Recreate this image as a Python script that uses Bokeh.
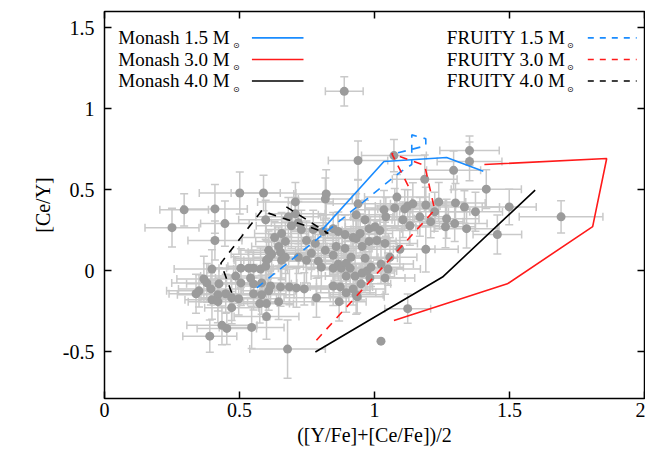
import numpy as np
from bokeh.plotting import figure
from bokeh.models import (ColumnDataSource, Whisker, TeeHead, LinearAxis, FixedTicker,
                          Range1d, Label, Arrow)
from bokeh.embed import file_html
from bokeh.resources import INLINE

# ---------------- data ----------------
obs_x = [0.250, 0.295, 0.339, 0.350, 0.368, 0.379, 0.390, 0.394, 0.398, 0.398,
         0.409, 0.409, 0.420, 0.420, 0.424, 0.435, 0.446, 0.449, 0.453, 0.471,
         0.471, 0.486, 0.497, 0.501, 0.505, 0.505, 0.534, 0.541, 0.545, 0.552,
         0.552, 0.552, 0.575, 0.578, 0.582, 0.582, 0.589, 0.597, 0.597, 0.600,
         0.600, 0.600, 0.608, 0.608, 0.608, 0.615, 0.619, 0.630, 0.645, 0.645,
         0.652, 0.652, 0.656, 0.656, 0.670, 0.670, 0.678, 0.681, 0.685, 0.692,
         0.707, 0.707, 0.711, 0.718, 0.718, 0.729, 0.740, 0.748, 0.748, 0.766,
         0.773, 0.781, 0.785, 0.792, 0.803, 0.810, 0.818, 0.821, 0.818, 0.847,
         0.847, 0.847, 0.847, 0.858, 0.866, 0.866, 0.869, 0.873, 0.877, 0.888,
         0.891, 0.891, 0.895, 0.895, 0.895, 0.910, 0.913, 0.921, 0.921, 0.928,
         0.932, 0.932, 0.932, 0.939, 0.939, 0.936, 0.947, 0.950, 0.954, 0.954,
         0.965, 0.965, 0.972, 0.980, 0.980, 0.983, 0.987, 1.002, 1.009, 1.020,
         1.024, 1.024, 1.035, 1.039, 1.039, 1.042, 1.050, 1.057, 1.072, 1.075,
         1.083, 1.094, 1.105, 1.112, 1.123, 1.123, 1.131, 1.142, 1.168, 1.186,
         1.190, 1.190, 1.223, 1.208, 1.238, 1.263, 1.267, 1.293, 1.297, 1.300,
         1.333, 1.341, 1.352, 1.352, 1.374, 1.414, 1.455, 1.499, 1.691]
obs_y = [0.265, 0.375, -0.143, -0.125, -0.052, -0.076, -0.405, -0.113, 0.009, -0.180,
         0.381, 0.186, -0.149, -0.192, -0.082, -0.338, 0.290, -0.143, -0.357, -0.168,
         -0.229, -0.034, -0.174, 0.479, 0.015, -0.076, 0.015, -0.046, -0.351, 0.015,
         -0.082, -0.143, -0.204, 0.009, -0.076, -0.149, 0.479, 0.314, 0.027, 0.064,
         -0.204, -0.284, 0.125, 0.076, -0.125, -0.095, 0.101, 0.204, 0.149, -0.192,
         -0.101, 0.113, 0.229, 0.064, 0.082, 0.180, -0.485, 0.332, -0.101, 0.277,
         0.424, 0.351, -0.107, 0.296, 0.082, 0.253, -0.113, 0.186, 0.064, 0.107,
         0.253, 0.168, -0.168, 0.058, 0.021, 0.241, 0.442, 0.473, 0.125, 0.259,
         0.095, 0.015, -0.095, 0.149, 0.241, 0.040, -0.192, -0.101, 0.015, 1.107,
         0.223, 0.137, -0.034, 0.046, -0.137, 0.015, 0.082, 0.204, -0.113, -0.034,
         0.345, 0.198, -0.149, 0.680, 0.412, -0.162, 0.229, -0.082, 0.149, -0.015,
         0.314, 0.076, -0.003, 0.259, 0.180, -0.046, 0.021, 0.271, 0.186, 0.247,
         0.040, -0.436, 0.375, 0.168, -0.046, 0.332, 0.009, 0.082, 0.710, 0.387,
         0.454, 0.131, 0.314, 0.381, 0.399, -0.235, 0.277, 0.412, 0.332, 0.564,
         0.405, 0.131, 0.363, 0.302, 0.424, 0.271, 0.320, 0.619, 0.290, 0.418,
         0.393, 0.259, 0.741, 0.674, 0.363, 0.503, 0.223, 0.393, 0.332]
obs_xerr = [0.10, 0.09, 0.10, 0.12, 0.10, 0.13, 0.10, 0.12, 0.14, 0.10,
            0.12, 0.10, 0.15, 0.11, 0.12, 0.13, 0.09, 0.10, 0.11, 0.12,
            0.10, 0.13, 0.14, 0.15, 0.12, 0.10, 0.11, 0.13, 0.12, 0.10,
            0.14, 0.12, 0.11, 0.10, 0.13, 0.12, 0.12, 0.10, 0.14, 0.12,
            0.10, 0.12, 0.11, 0.13, 0.10, 0.12, 0.15, 0.12, 0.10, 0.13,
            0.11, 0.12, 0.10, 0.14, 0.12, 0.11, 0.14, 0.12, 0.10, 0.13,
            0.14, 0.11, 0.12, 0.10, 0.12, 0.13, 0.11, 0.12, 0.10, 0.12,
            0.14, 0.10, 0.12, 0.11, 0.13, 0.12, 0.10, 0.12, 0.11, 0.13,
            0.12, 0.10, 0.12, 0.11, 0.14, 0.12, 0.10, 0.12, 0.11, 0.07,
            0.12, 0.10, 0.13, 0.12, 0.11, 0.12, 0.10, 0.13, 0.12, 0.11,
            0.14, 0.12, 0.10, 0.11, 0.12, 0.10, 0.12, 0.11, 0.13, 0.12,
            0.10, 0.12, 0.11, 0.12, 0.10, 0.13, 0.12, 0.11, 0.12, 0.14,
            0.12, 0.00, 0.10, 0.12, 0.11, 0.13, 0.12, 0.10, 0.12, 0.11,
            0.12, 0.13, 0.12, 0.10, 0.12, 0.085, 0.11, 0.12, 0.10, 0.12,
            0.11, 0.12, 0.13, 0.12, 0.10, 0.11, 0.12, 0.10, 0.12, 0.11,
            0.13, 0.12, 0.11, 0.12, 0.10, 0.13, 0.09, 0.10, 0.155]
obs_yerr = [0.12, 0.10, 0.12, 0.10, 0.14, 0.12, 0.10, 0.10, 0.12, 0.12,
            0.15, 0.12, 0.10, 0.13, 0.10, 0.12, 0.14, 0.12, 0.10, 0.14,
            0.10, 0.12, 0.10, 0.13, 0.12, 0.14, 0.10, 0.12, 0.13, 0.11,
            0.12, 0.10, 0.12, 0.13, 0.10, 0.12, 0.11, 0.12, 0.10, 0.12,
            0.10, 0.14, 0.12, 0.10, 0.12, 0.10, 0.12, 0.10, 0.12, 0.11,
            0.12, 0.10, 0.13, 0.12, 0.10, 0.12, 0.18, 0.12, 0.11, 0.14,
            0.12, 0.10, 0.12, 0.13, 0.10, 0.12, 0.10, 0.12, 0.14, 0.10,
            0.12, 0.11, 0.12, 0.10, 0.12, 0.10, 0.13, 0.15, 0.12, 0.10,
            0.12, 0.10, 0.12, 0.11, 0.12, 0.10, 0.12, 0.10, 0.13, 0.09,
            0.12, 0.10, 0.12, 0.11, 0.12, 0.10, 0.12, 0.12, 0.10, 0.12,
            0.13, 0.11, 0.12, 0.12, 0.15, 0.10, 0.12, 0.10, 0.12, 0.11,
            0.12, 0.10, 0.12, 0.12, 0.13, 0.10, 0.12, 0.11, 0.12, 0.10,
            0.12, 0.00, 0.12, 0.13, 0.10, 0.12, 0.10, 0.12, 0.10, 0.12,
            0.14, 0.12, 0.11, 0.12, 0.10, 0.09, 0.12, 0.13, 0.12, 0.15,
            0.11, 0.14, 0.12, 0.10, 0.12, 0.13, 0.12, 0.12, 0.11, 0.12,
            0.10, 0.12, 0.09, 0.12, 0.12, 0.12, 0.12, 0.11, 0.10]

monash15_x = [0.807, 1.035, 1.267, 1.403]
monash15_y = [0.253, 0.674, 0.698, 0.613]
monash30_x = [1.072, 1.492, 1.808, 1.860, 1.407]
monash30_y = [-0.308, -0.082, 0.271, 0.692, 0.655]
monash40_x = [0.781, 1.252, 1.595]
monash40_y = [-0.503, -0.040, 0.497]
fruity15_x = [0.564, 1.094, 1.138, 1.138, 1.190, 1.190, 1.061]
fruity15_y = [-0.107, 0.607, 0.655, 0.838, 0.814, 0.771, 0.716]
fruity30_x = [0.785, 1.223, 1.186, 1.064, 1.131]
fruity30_y = [-0.430, 0.375, 0.649, 0.723, 0.503]
fruity40_x = [0.471, 0.431, 0.582, 0.829, 0.656]
fruity40_y = [-0.137, 0.046, 0.369, 0.229, 0.412]

x_ticks = [0, 0.5, 1, 1.5, 2]
x_tick_labels = ["0", "0.5", "1", "1.5", "2"]
y_ticks = [-0.5, 0, 0.5, 1, 1.5]
y_tick_labels = ["-0.5", "0", "0.5", "1", "1.5"]

series = [
    ("Monash 1.5 M", monash15_x, monash15_y, "#1a8cff", "solid"),
    ("Monash 3.0 M", monash30_x, monash30_y, "#ff1a1a", "solid"),
    ("Monash 4.0 M", monash40_x, monash40_y, "#000000", "solid"),
    ("FRUITY 1.5 M", fruity15_x, fruity15_y, "#1a8cff", "8 7"),
    ("FRUITY 3.0 M", fruity30_x, fruity30_y, "#ff1a1a", "8 7"),
    ("FRUITY 4.0 M", fruity40_x, fruity40_y, "#000000", "8 7"),
]

FONT = "Liberation Serif"

# ---------------- figure ----------------
p = figure(width=645, height=455, output_backend="svg", toolbar_location=None,
           x_range=Range1d(0, 2), y_range=Range1d(-0.79, 1.6),
           min_border_left=104, min_border_right=1, min_border_top=11, min_border_bottom=57)
p.background_fill_color = "white"
p.border_fill_color = "white"
p.outline_line_color = "black"
p.outline_line_width = 1.5
p.xgrid.visible = False
p.ygrid.visible = False

ox = np.array(obs_x); oy = np.array(obs_y)
oxe = np.array(obs_xerr); oye = np.array(obs_yerr)
mask = (oxe > 0) | (oye > 0)
err_src = ColumnDataSource(dict(x=ox[mask], y=oy[mask],
                                xl=(ox - oxe)[mask], xu=(ox + oxe)[mask],
                                yl=(oy - oye)[mask], yu=(oy + oye)[mask]))
bar_col = "#c9c9c9"
wx = Whisker(source=err_src, base="y", lower="xl", upper="xu", dimension="width",
             line_color=bar_col, line_width=1.5, level="underlay",
             lower_head=TeeHead(size=8, line_color=bar_col, line_width=1.5),
             upper_head=TeeHead(size=8, line_color=bar_col, line_width=1.5))
wy = Whisker(source=err_src, base="x", lower="yl", upper="yu", dimension="height",
             line_color=bar_col, line_width=1.5, level="underlay",
             lower_head=TeeHead(size=8, line_color=bar_col, line_width=1.5),
             upper_head=TeeHead(size=8, line_color=bar_col, line_width=1.5))
p.add_layout(wx)
p.add_layout(wy)

p.scatter(x=obs_x, y=obs_y, size=9, color="#9b9b9b", line_color=None)

for name, xs, ys, col, dash in series:
    p.line(x=xs, y=ys, line_color=col, line_width=1.6, line_dash=dash)

# ---------------- axes ----------------
def style_axis(ax, show_labels=True):
    ax.axis_line_color = None
    ax.major_tick_in = 7
    ax.major_tick_out = 0
    ax.major_tick_line_color = "black"
    ax.major_tick_line_width = 1.5
    ax.minor_tick_line_color = None
    ax.major_label_text_font = FONT
    if show_labels:
        ax.major_label_text_font_size = "20px"
        ax.major_label_text_color = "black"
    else:
        ax.major_label_text_font_size = "1px"
        ax.major_label_text_color = None
        ax.major_label_standoff = 0

p.xaxis.ticker = FixedTicker(ticks=x_ticks)
p.xaxis.major_label_overrides = {t: l for t, l in zip(x_ticks, x_tick_labels)}
p.yaxis.ticker = FixedTicker(ticks=y_ticks)
p.yaxis.major_label_overrides = {t: l for t, l in zip(y_ticks, y_tick_labels)}
style_axis(p.xaxis[0]); style_axis(p.yaxis[0])
p.xaxis.major_label_standoff = 4
p.yaxis.major_label_standoff = 10
p.xaxis.axis_label = "([Y/Fe]+[Ce/Fe])/2"
p.yaxis.axis_label = "[Ce/Y]"
for ax in (p.xaxis[0], p.yaxis[0]):
    ax.axis_label_text_font = FONT
    ax.axis_label_text_font_size = "20px"
    ax.axis_label_text_font_style = "normal"
    ax.axis_label_text_color = "black"
p.xaxis.axis_label_standoff = 4
p.yaxis.axis_label_standoff = 6

top_ax = LinearAxis(ticker=FixedTicker(ticks=x_ticks))
right_ax = LinearAxis(ticker=FixedTicker(ticks=y_ticks))
style_axis(top_ax, False); style_axis(right_ax, False)
p.add_layout(top_ax, "above")
p.add_layout(right_ax, "right")

# ---------------- legend (gnuplot style: text then sample) ----------------
row_y = [1.437, 1.304, 1.171]
col_text_x = [0.051, 1.268]
col_sym_x = [0.476, 1.713]
col_line_x = [(0.546, 0.737), (1.790, 1.971)]
for i, (name, xs, ys, col, dash) in enumerate(series):
    c, r = divmod(i, 3)
    p.add_layout(Label(x=col_text_x[c], y=row_y[r], text=name, text_font=FONT,
                       text_font_size="19px", text_baseline="middle", text_color="black"))
    p.add_layout(Label(x=col_sym_x[c], y=row_y[r] - 0.05, text="\u2299", text_font="DejaVu Sans",
                       text_font_size="8px", text_baseline="middle", text_color="black"))
    x0, x1 = col_line_x[c]
    p.add_layout(Arrow(x_start=x0, y_start=row_y[r], x_end=x1, y_end=row_y[r],
                       start=None, end=None, line_color=col, line_width=1.6,
                       line_dash="solid" if dash == "solid" else "6 6"))

open("out.html", "w").write(file_html(p, INLINE))
